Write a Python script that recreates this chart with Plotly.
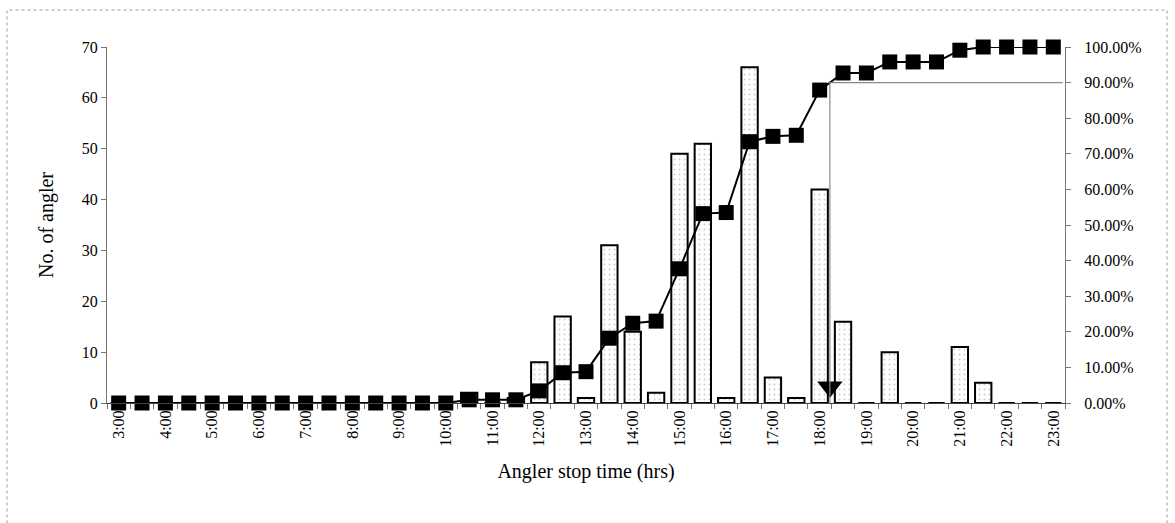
import numpy as np
import plotly.graph_objects as go

# Half-hourly stop times, 3:00 to 23:00
times = [f"{h}:{m:02d}" for h in range(3, 23) for m in (0, 30)] + ["23:00"]

# Number of anglers stopping in each half-hour slot
anglers = [0, 0, 0, 0, 0, 0, 0, 0, 0, 0, 0, 0, 0, 0, 0,
           2, 0, 1, 8, 17, 1, 31, 14, 2, 49, 51, 1, 66, 5, 1,
           42, 16, 0, 10, 0, 0, 11, 4, 0, 0, 0]

# Cumulative share of anglers that have stopped
cumulative = [0, 0, 0, 0, 0, 0, 0, 0, 0, 0, 0, 0, 0, 0, 0,
              0.009, 0.009, 0.009, 0.034, 0.085, 0.088, 0.182, 0.224, 0.230,
              0.377, 0.532, 0.535, 0.734, 0.749, 0.752, 0.879, 0.927, 0.927,
              0.958, 0.958, 0.958, 0.991, 1.0, 1.0, 1.0, 1.0]

hour_labels = [t for t in times if t.endswith(":00")]

FONT = "Liberation Serif, Times New Roman, serif"
x = list(range(len(times)))
hour_pos = [i for i, t in enumerate(times) if t.endswith(":00")]

# Where the cumulative curve reaches 90 %
level = 0.9
k = next(i for i, c in enumerate(cumulative) if c >= level)
x90 = (k - 1) + (level - cumulative[k - 1]) / (cumulative[k] - cumulative[k - 1])

fig = go.Figure()

fig.add_trace(go.Bar(
    x=x, y=anglers, width=0.7,
    marker=dict(color="white", line=dict(color="black", width=2),
                pattern=dict(shape=".", fgcolor="#9a9a9a", bgcolor="white",
                             size=5, solidity=0.12)),
    showlegend=False, hoverinfo="x+y",
))

fig.add_trace(go.Scatter(
    x=x, y=cumulative, yaxis="y2", mode="lines+markers", cliponaxis=False,
    line=dict(color="black", width=2),
    marker=dict(symbol="square", size=15, color="black"),
    showlegend=False,
))

# 90 % marker on the time axis
fig.add_trace(go.Scatter(
    x=[x90], y=[0.045], yaxis="y2", mode="markers", cliponaxis=False,
    marker=dict(symbol="triangle-down", size=22, color="black"),
    showlegend=False,
))

fig.add_shape(type="line", xref="x", yref="y2", x0=x90, x1=x90, y0=0, y1=level,
              line=dict(color="#8a8a8a", width=1.2), layer="above")
fig.add_shape(type="line", xref="x", yref="y2", x0=x90, x1=len(times) - 0.6,
              y0=level, y1=level, line=dict(color="#8a8a8a", width=1.2), layer="above")

# Chart frame
fig.add_shape(type="rect", xref="paper", yref="paper", x0=-0.1044, x1=1.1065,
              y0=-0.40, y1=1.104, line=dict(color="#9a9a9a", width=1, dash="dot"),
              layer="below")

fig.update_layout(
    width=1175, height=523,
    margin=dict(l=107, r=110, t=47, b=120),
    paper_bgcolor="white", plot_bgcolor="white",
    font=dict(family=FONT, size=16, color="black"),
    bargap=0.3,
    xaxis=dict(
        range=[-0.5, len(times) - 0.5],
        tickmode="array", tickvals=hour_pos, ticktext=hour_labels,
        tickangle=-90, ticks="", showgrid=False, zeroline=False,
        showline=True, linecolor="#444", linewidth=1,
        minor=dict(tickmode="linear", tick0=-0.5, dtick=1, ticks="outside",
                   ticklen=5, tickcolor="#777", showgrid=False),
        tickfont=dict(size=16),
        title=dict(text="Angler stop time (hrs)", font=dict(size=20), standoff=18),
    ),
    yaxis=dict(
        range=[0, 70], dtick=10, ticks="outside", ticklen=5, tickcolor="#777",
        showgrid=False, zeroline=False, showline=True, linecolor="#777",
        linewidth=1, tickfont=dict(size=16),
        title=dict(text="No. of angler", font=dict(size=20), standoff=22),
    ),
    yaxis2=dict(
        range=[0, 1], dtick=0.1, tickformat=".2%", overlaying="y", side="right",
        ticks="outside", ticklen=5, tickcolor="#777", showgrid=False,
        zeroline=False, showline=True, linecolor="#777", linewidth=1,
        tickfont=dict(size=16), ticklabelstandoff=10,
    ),
)

fig.write_html("out.html")
